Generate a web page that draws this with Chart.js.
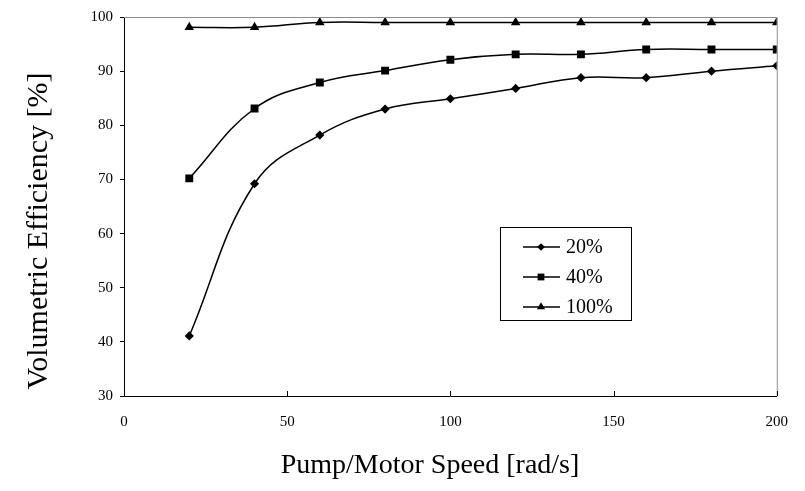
<!DOCTYPE html>
<html>
<head>
<meta charset="utf-8">
<script src="https://cdn.jsdelivr.net/npm/chart.js@4/dist/chart.umd.min.js"></script>
<style>
  html, body { margin: 0; padding: 0; background: #fff; }
  #wrap { width: 805px; height: 491px; }
</style>
</head>
<body>
<div id="wrap"><canvas id="grafico" width="805" height="491"></canvas></div>
<script>
// --- DATA ---
const velocidades = [20, 40, 60, 80, 100, 120, 140, 160, 180, 200];
const serieNomes = ['20%', '40%', '100%'];
const ef20 = [41.1, 69.2, 78.2, 83.0, 84.9, 86.8, 88.8, 88.8, 90.0, 91.0];
const ef40 = [70.2, 83.1, 87.9, 90.1, 92.1, 93.1, 93.1, 94.0, 94.0, 94.0];
const ef100 = [98.1, 98.1, 99.0, 99.0, 99.0, 99.0, 99.0, 99.0, 99.0, 99.0];
const xTicks = [0, 50, 100, 150, 200];
const yTicks = [30, 40, 50, 60, 70, 80, 90, 100];
const tituloX = 'Pump/Motor Speed [rad/s]';
const tituloY = 'Volumetric Efficiency [%]';

const fonte = '"Liberation Serif", "Times New Roman", serif';
const estilos = ['rectRot', 'rect', 'triangle'];
const raios = [4.6, 5.6, 5.5];

function pontos(vals) {
    return velocidades.map((v, i) => ({ x: v, y: vals[i] }));
}

const datasets = [ef20, ef40, ef100].map((vals, i) => ({
    label: serieNomes[i],
    data: pontos(vals),
    borderColor: '#000',
    backgroundColor: '#000',
    borderWidth: 1.5,
    pointStyle: estilos[i],
    pointRadius: raios[i],
    pointBorderWidth: 0,
    tension: 0.4,
    fill: false
}));

// moldura, ticks internos, titulos e legenda
const extras = {
    id: 'extras',
    afterDraw(chart) {
        const ctx = chart.ctx;
        const a = chart.chartArea;
        const sx = chart.scales.x;
        ctx.save();
        // borda superior e direita (cinza)
        ctx.strokeStyle = '#8c8c8c';
        ctx.lineWidth = 1;
        ctx.beginPath();
        ctx.moveTo(a.left, a.top + 0.5);
        ctx.lineTo(a.right + 0.5, a.top + 0.5);
        ctx.lineTo(a.right + 0.5, a.bottom);
        ctx.stroke();

        // ticks do eixo x apontando para dentro
        ctx.strokeStyle = '#000';
        xTicks.forEach(t => {
            const px = Math.round(sx.getPixelForValue(t)) + 0.5;
            ctx.beginPath();
            ctx.moveTo(px, a.bottom);
            ctx.lineTo(px, a.bottom - 5);
            ctx.stroke();
        });

        // titulos
        ctx.fillStyle = '#000';
        ctx.textAlign = 'center';
        ctx.textBaseline = 'middle';
        ctx.font = '28px ' + fonte;
        ctx.fillText(tituloX, 430, 466);
        ctx.save();
        ctx.translate(39, 231);
        ctx.rotate(-Math.PI / 2);
        ctx.font = '30px ' + fonte;
        ctx.fillText(tituloY, 0, 0);
        ctx.restore();

        // legenda
        const lx = 500, ly = 227, lw = 131, lh = 93;
        ctx.fillStyle = '#fff';
        ctx.fillRect(lx, ly, lw, lh);
        ctx.strokeStyle = '#000';
        ctx.strokeRect(lx + 0.5, ly + 0.5, lw, lh);
        const linhas = [247, 277, 307];
        ctx.font = '20px ' + fonte;
        ctx.textAlign = 'left';
        chart.data.datasets.forEach((ds, i) => {
            const y = linhas[i];
            ctx.strokeStyle = '#000';
            ctx.lineWidth = 1.5;
            ctx.beginPath();
            ctx.moveTo(523, y);
            ctx.lineTo(560, y);
            ctx.stroke();
            ctx.fillStyle = '#000';
            Chart.helpers.drawPoint(ctx, { pointStyle: ds.pointStyle, rotation: 0, radius: ds.pointRadius - 0.8, borderWidth: 0 }, 541, y);
            ctx.fillStyle = '#000';
            ctx.fillText(ds.label, 566, y + 1);
        });
        ctx.restore();
    }
};

new Chart(document.getElementById('grafico'), {
    type: 'line',
    data: { datasets },
    options: {
        responsive: false,
        animation: false,
        layout: { padding: { top: 17, right: 26, left: 0, bottom: 0 } },
        plugins: { legend: { display: false }, tooltip: { enabled: false } },
        scales: {
            x: {
                type: 'linear',
                min: 0, max: 200,
                afterBuildTicks: s => { s.ticks = xTicks.map(v => ({ value: v })); },
                afterFit: s => { s.height = 95; },
                grid: { display: true, drawOnChartArea: false, drawTicks: false },
                border: { color: '#000', width: 1 },
                ticks: { color: '#000', font: { family: fonte, size: 15 }, padding: 17, maxRotation: 0 }
            },
            y: {
                min: 30, max: 100,
                afterBuildTicks: s => { s.ticks = yTicks.map(v => ({ value: v })); },
                afterFit: s => { s.width = 124; },
                grid: { display: true, drawOnChartArea: false, tickLength: 4, color: '#000' },
                border: { color: '#000', width: 1 },
                ticks: { color: '#000', font: { family: fonte, size: 15 }, padding: 7 }
            }
        }
    },
    plugins: [extras]
});
</script>
</body>
</html>
